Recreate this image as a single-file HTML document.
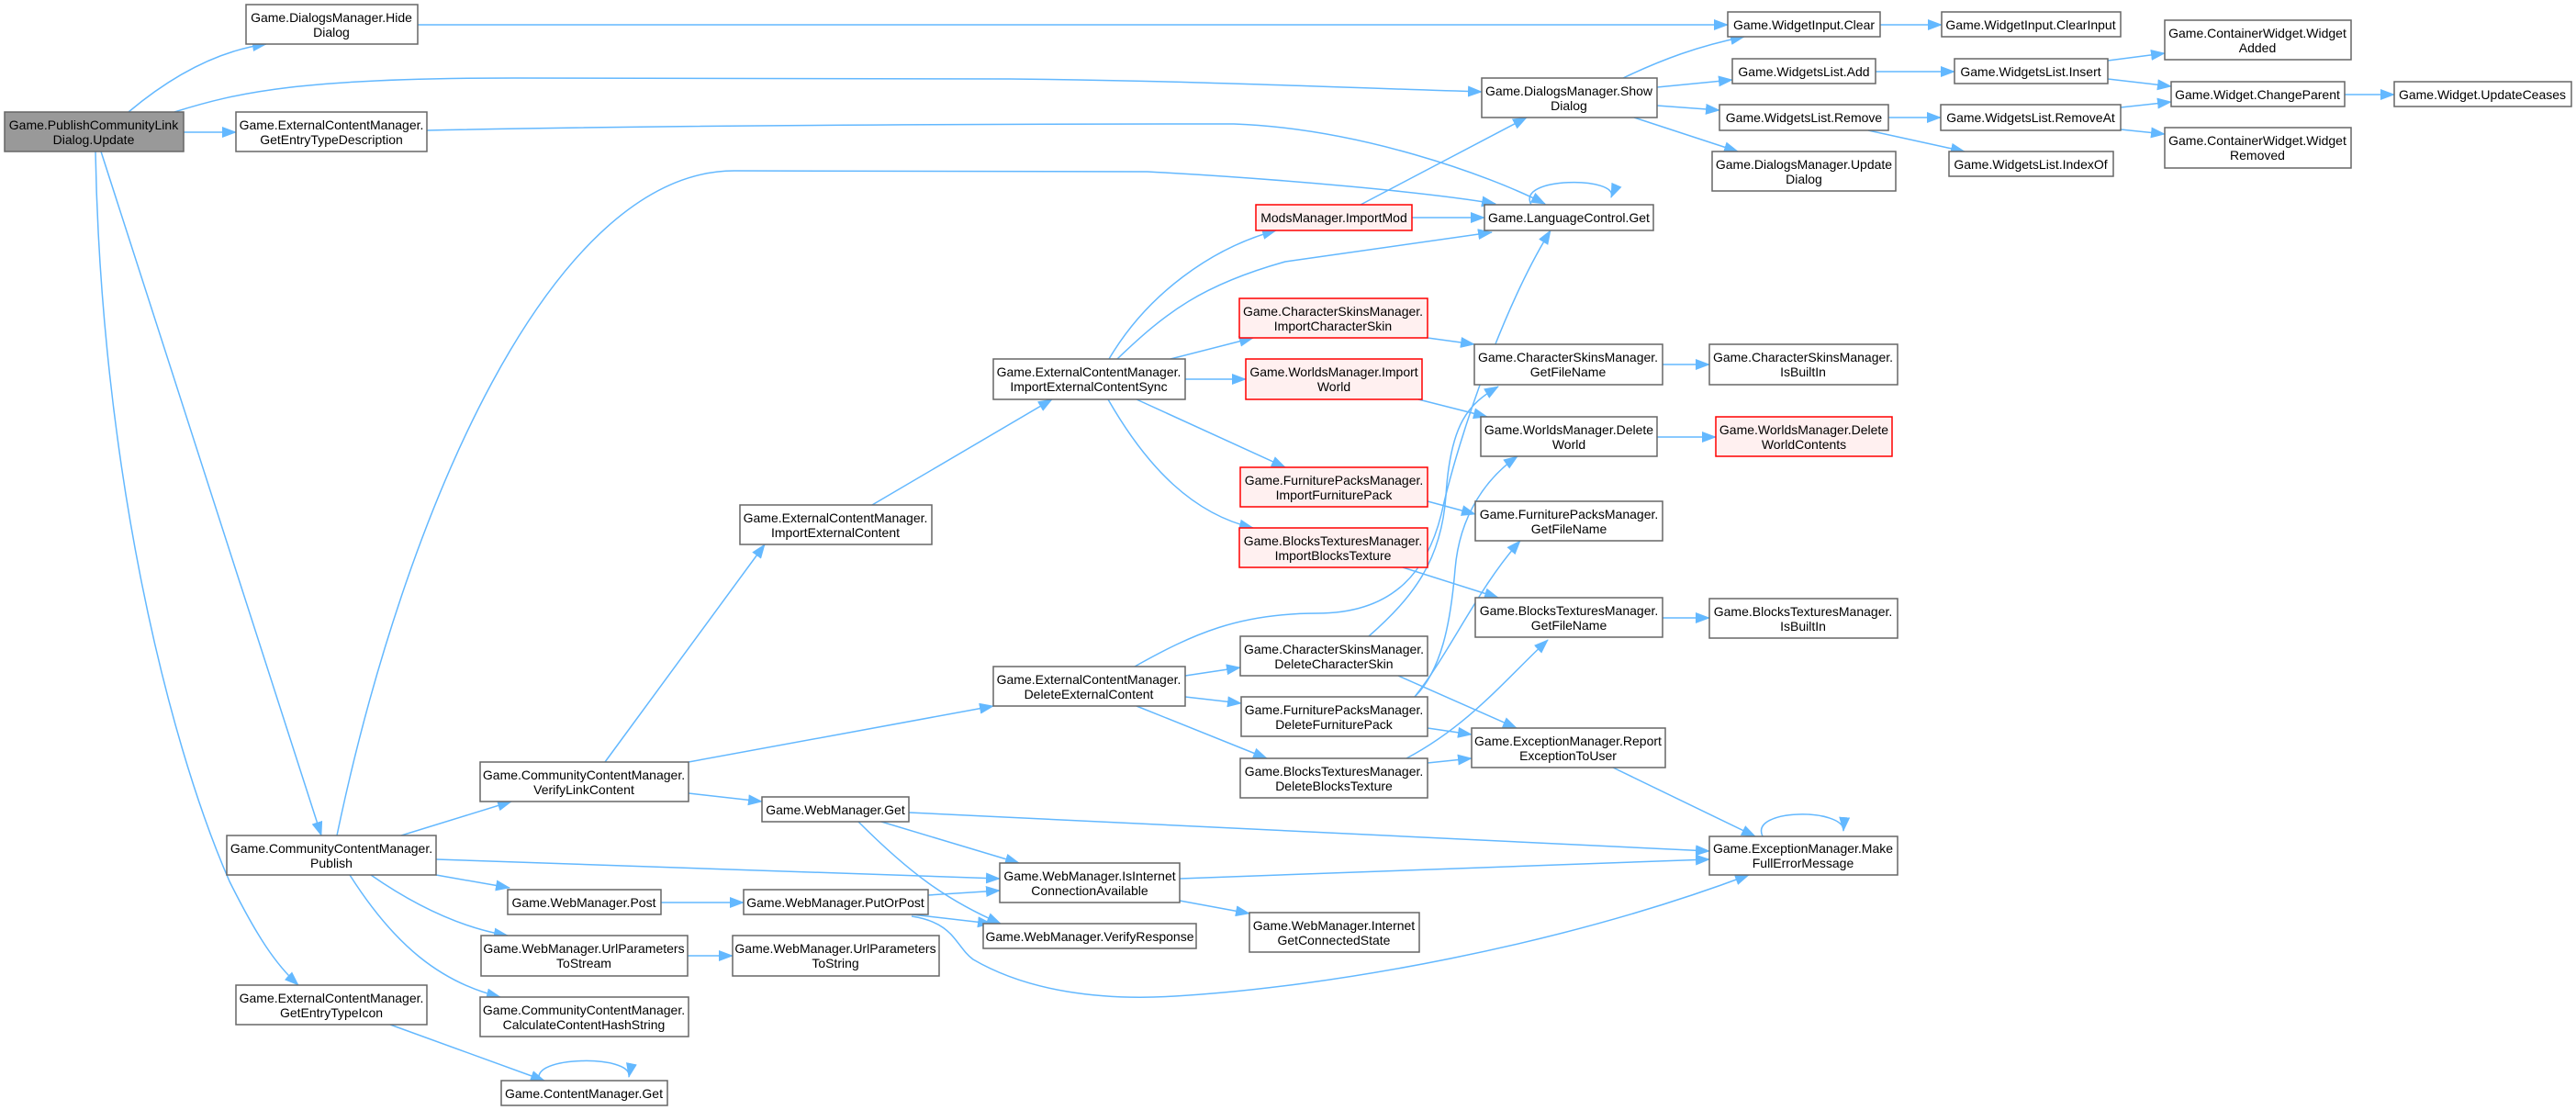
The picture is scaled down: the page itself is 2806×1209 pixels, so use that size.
<!DOCTYPE html>
<html><head><meta charset="utf-8"><style>
html,body{margin:0;padding:0;background:#fff;}
svg{display:block;}
text{font-family:"Liberation Sans",Arial,sans-serif;font-size:14px;fill:#000;}
.n{fill:#fff;stroke:#666;stroke-width:1.5;}
.r{fill:#fff0f0;stroke:#ff0000;stroke-width:1.5;}
.g{fill:#999;stroke:#666;stroke-width:1.5;}
.e{fill:none;stroke:#63b8ff;stroke-width:1.5;marker-end:url(#a);}
</style></head><body>
<svg width="2806" height="1209" viewBox="0 0 2806 1209" xmlns="http://www.w3.org/2000/svg">
<defs><marker id="a" markerWidth="16" markerHeight="12" refX="15" refY="6" orient="auto" markerUnits="userSpaceOnUse"><path d="M0,0 L16,6 L0,12 z" fill="#63b8ff"/></marker></defs>
<g>
<path class="e" d="M140,122 C190,80 240,55 290,48"/>
<path class="e" d="M190,122 C260,100 330,85 560,85 L1100,86 C1300,88 1450,95 1614,100"/>
<path class="e" d="M200,144 L257,144"/>
<path class="e" d="M110,165 L350,910"/>
<path class="e" d="M104,165 C110,500 180,800 250,960 C280,1020 300,1050 325,1073"/>
<path class="e" d="M455,27 L1882,27"/>
<path class="e" d="M465,142 C700,137 1000,135 1344,135 C1480,140 1620,190 1683,222"/>
<path class="e" d="M367,910 C440,560 600,186 800,186 L1250,187 C1400,195 1560,210 1629,222"/>
<path class="e" d="M1768,85 C1810,65 1850,50 1900,40"/>
<path class="e" d="M1805,95 L1887,87"/>
<path class="e" d="M1805,115 L1873,120"/>
<path class="e" d="M1780,128 L1893,165"/>
<path class="e" d="M1482,223 L1663,128"/>
<path class="e" d="M1538,237 L1617,237"/>
<path class="e" d="M1668,223 C1650,192 1765,192 1755,215"/>
<path class="e" d="M1208,391 C1250,320 1320,270 1390,251"/>
<path class="e" d="M1217,391 C1270,340 1310,310 1400,285 L1625,253"/>
<path class="e" d="M1275,391 L1365,368"/>
<path class="e" d="M1291,413 L1357,413"/>
<path class="e" d="M1238,435 L1400,509"/>
<path class="e" d="M1207,435 C1250,510 1300,560 1365,575"/>
<path class="e" d="M950,550 L1146,435"/>
<path class="e" d="M1555,368 L1606,375"/>
<path class="e" d="M1545,435 L1620,454"/>
<path class="e" d="M1555,546 L1607,560"/>
<path class="e" d="M1528,618 L1632,651"/>
<path class="e" d="M1811,397 L1862,397"/>
<path class="e" d="M1805,476 L1869,476"/>
<path class="e" d="M1811,673 L1862,673"/>
<path class="e" d="M1757,836 L1912,911"/>
<path class="e" d="M1920,911 C1905,880 2010,880 2008,905"/>
<path class="e" d="M1236,726 C1300,690 1350,668 1435,668 C1520,668 1555,620 1570,560 C1590,470 1640,330 1689,251"/>
<path class="e" d="M1491,693 C1540,650 1570,610 1575,540 C1580,460 1600,440 1632,421"/>
<path class="e" d="M1541,759 C1570,730 1580,680 1585,620 C1590,560 1620,520 1653,497"/>
<path class="e" d="M1541,759 C1580,710 1610,640 1656,589"/>
<path class="e" d="M1532,826 C1600,790 1640,740 1686,697"/>
<path class="e" d="M1291,736 L1351,727"/>
<path class="e" d="M1291,759 L1352,766"/>
<path class="e" d="M1238,769 L1380,826"/>
<path class="e" d="M1523,736 L1652,793"/>
<path class="e" d="M1555,793 L1603,800"/>
<path class="e" d="M1555,831 L1603,826"/>
<path class="e" d="M659,830 L833,593"/>
<path class="e" d="M750,830 L1082,769"/>
<path class="e" d="M750,864 L830,873"/>
<path class="e" d="M437,910 L557,873"/>
<path class="e" d="M475,936 L1089,957"/>
<path class="e" d="M475,953 L555,967"/>
<path class="e" d="M404,953 C450,985 500,1010 553,1019"/>
<path class="e" d="M381,953 C430,1030 480,1070 545,1086"/>
<path class="e" d="M720,983 L810,983"/>
<path class="e" d="M749,1041 L798,1041"/>
<path class="e" d="M425,1116 L593,1177"/>
<path class="e" d="M588,1177 C575,1150 690,1148 685,1173"/>
<path class="e" d="M990,885 L1862,927"/>
<path class="e" d="M960,895 L1110,940"/>
<path class="e" d="M935,895 C990,950 1030,980 1090,1006"/>
<path class="e" d="M1011,975 L1089,970"/>
<path class="e" d="M993,996 L1080,1006"/>
<path class="e" d="M993,998 C1040,1005 1040,1030 1060,1045 C1120,1080 1200,1090 1280,1085 C1450,1075 1700,1030 1905,953"/>
<path class="e" d="M1285,957 L1862,936"/>
<path class="e" d="M1285,981 L1361,995"/>
<path class="e" d="M2048,27 L2115,27"/>
<path class="e" d="M2043,78 L2129,78"/>
<path class="e" d="M2296,66 L2358,58"/>
<path class="e" d="M2296,86 L2365,94"/>
<path class="e" d="M2554,103 L2608,103"/>
<path class="e" d="M2057,128 L2114,128"/>
<path class="e" d="M2035,142 L2140,165"/>
<path class="e" d="M2310,117 L2365,111"/>
<path class="e" d="M2310,141 L2358,146"/>
</g>
<g text-anchor="middle" dominant-baseline="central">
<rect class="g" x="5" y="122" width="195" height="43"/><text x="102" y="136">Game.PublishCommunityLink</text><text x="102" y="152">Dialog.Update</text>
<rect class="n" x="268" y="5" width="187" height="43"/><text x="361" y="19">Game.DialogsManager.Hide</text><text x="361" y="35">Dialog</text>
<rect class="n" x="257" y="122" width="208" height="43"/><text x="361" y="136">Game.ExternalContentManager.</text><text x="361" y="152">GetEntryTypeDescription</text>
<rect class="n" x="247" y="910" width="228" height="43"/><text x="361" y="924">Game.CommunityContentManager.</text><text x="361" y="940">Publish</text>
<rect class="n" x="257" y="1073" width="208" height="43"/><text x="361" y="1087">Game.ExternalContentManager.</text><text x="361" y="1103">GetEntryTypeIcon</text>
<rect class="n" x="523" y="830" width="227" height="43"/><text x="636" y="844">Game.CommunityContentManager.</text><text x="636" y="860">VerifyLinkContent</text>
<rect class="n" x="524" y="1019" width="225" height="44"/><text x="636" y="1033">Game.WebManager.UrlParameters</text><text x="636" y="1049">ToStream</text>
<rect class="n" x="523" y="1086" width="227" height="43"/><text x="636" y="1100">Game.CommunityContentManager.</text><text x="636" y="1116">CalculateContentHashString</text>
<rect class="n" x="553" y="969" width="167" height="27"/><text x="636" y="983">Game.WebManager.Post</text>
<rect class="n" x="546" y="1177" width="181" height="27"/><text x="636" y="1191">Game.ContentManager.Get</text>
<rect class="n" x="806" y="550" width="209" height="43"/><text x="910" y="564">Game.ExternalContentManager.</text><text x="910" y="580">ImportExternalContent</text>
<rect class="n" x="830" y="868" width="160" height="27"/><text x="910" y="882">Game.WebManager.Get</text>
<rect class="n" x="810" y="969" width="201" height="27"/><text x="910" y="983">Game.WebManager.PutOrPost</text>
<rect class="n" x="798" y="1019" width="225" height="44"/><text x="910" y="1033">Game.WebManager.UrlParameters</text><text x="910" y="1049">ToString</text>
<rect class="n" x="1082" y="391" width="209" height="44"/><text x="1186" y="405">Game.ExternalContentManager.</text><text x="1186" y="421">ImportExternalContentSync</text>
<rect class="n" x="1082" y="726" width="209" height="43"/><text x="1186" y="740">Game.ExternalContentManager.</text><text x="1186" y="756">DeleteExternalContent</text>
<rect class="n" x="1089" y="940" width="196" height="43"/><text x="1187" y="954">Game.WebManager.IsInternet</text><text x="1187" y="970">ConnectionAvailable</text>
<rect class="n" x="1071" y="1006" width="232" height="27"/><text x="1187" y="1020">Game.WebManager.VerifyResponse</text>
<rect class="r" x="1368" y="223" width="170" height="28"/><text x="1453" y="237">ModsManager.ImportMod</text>
<rect class="r" x="1350" y="325" width="205" height="43"/><text x="1452" y="339">Game.CharacterSkinsManager.</text><text x="1452" y="355">ImportCharacterSkin</text>
<rect class="r" x="1357" y="391" width="192" height="44"/><text x="1453" y="405">Game.WorldsManager.Import</text><text x="1453" y="421">World</text>
<rect class="r" x="1351" y="509" width="204" height="43"/><text x="1453" y="523">Game.FurniturePacksManager.</text><text x="1453" y="539">ImportFurniturePack</text>
<rect class="r" x="1350" y="575" width="205" height="43"/><text x="1452" y="589">Game.BlocksTexturesManager.</text><text x="1452" y="605">ImportBlocksTexture</text>
<rect class="n" x="1351" y="693" width="204" height="43"/><text x="1453" y="707">Game.CharacterSkinsManager.</text><text x="1453" y="723">DeleteCharacterSkin</text>
<rect class="n" x="1352" y="759" width="203" height="43"/><text x="1453" y="773">Game.FurniturePacksManager.</text><text x="1453" y="789">DeleteFurniturePack</text>
<rect class="n" x="1351" y="826" width="204" height="43"/><text x="1453" y="840">Game.BlocksTexturesManager.</text><text x="1453" y="856">DeleteBlocksTexture</text>
<rect class="n" x="1361" y="994" width="185" height="43"/><text x="1453" y="1008">Game.WebManager.Internet</text><text x="1453" y="1024">GetConnectedState</text>
<rect class="n" x="1614" y="85" width="191" height="43"/><text x="1709" y="99">Game.DialogsManager.Show</text><text x="1709" y="115">Dialog</text>
<rect class="n" x="1617" y="223" width="184" height="28"/><text x="1709" y="237">Game.LanguageControl.Get</text>
<rect class="n" x="1606" y="375" width="205" height="44"/><text x="1708" y="389">Game.CharacterSkinsManager.</text><text x="1708" y="405">GetFileName</text>
<rect class="n" x="1613" y="454" width="192" height="43"/><text x="1709" y="468">Game.WorldsManager.Delete</text><text x="1709" y="484">World</text>
<rect class="n" x="1607" y="546" width="204" height="43"/><text x="1709" y="560">Game.FurniturePacksManager.</text><text x="1709" y="576">GetFileName</text>
<rect class="n" x="1607" y="651" width="204" height="43"/><text x="1709" y="665">Game.BlocksTexturesManager.</text><text x="1709" y="681">GetFileName</text>
<rect class="n" x="1603" y="793" width="211" height="43"/><text x="1708" y="807">Game.ExceptionManager.Report</text><text x="1708" y="823">ExceptionToUser</text>
<rect class="n" x="1882" y="13" width="166" height="27"/><text x="1965" y="27">Game.WidgetInput.Clear</text>
<rect class="n" x="1887" y="64" width="156" height="27"/><text x="1965" y="78">Game.WidgetsList.Add</text>
<rect class="n" x="1873" y="114" width="184" height="28"/><text x="1965" y="128">Game.WidgetsList.Remove</text>
<rect class="n" x="1865" y="165" width="200" height="43"/><text x="1965" y="179">Game.DialogsManager.Update</text><text x="1965" y="195">Dialog</text>
<rect class="n" x="1862" y="375" width="205" height="44"/><text x="1964" y="389">Game.CharacterSkinsManager.</text><text x="1964" y="405">IsBuiltIn</text>
<rect class="r" x="1869" y="454" width="192" height="43"/><text x="1965" y="468">Game.WorldsManager.Delete</text><text x="1965" y="484">WorldContents</text>
<rect class="n" x="1862" y="652" width="205" height="43"/><text x="1964" y="666">Game.BlocksTexturesManager.</text><text x="1964" y="682">IsBuiltIn</text>
<rect class="n" x="1862" y="911" width="205" height="42"/><text x="1964" y="924">Game.ExceptionManager.Make</text><text x="1964" y="940">FullErrorMessage</text>
<rect class="n" x="2115" y="13" width="195" height="27"/><text x="2212" y="27">Game.WidgetInput.ClearInput</text>
<rect class="n" x="2129" y="64" width="167" height="27"/><text x="2212" y="78">Game.WidgetsList.Insert</text>
<rect class="n" x="2114" y="114" width="196" height="28"/><text x="2212" y="128">Game.WidgetsList.RemoveAt</text>
<rect class="n" x="2123" y="165" width="179" height="27"/><text x="2212" y="179">Game.WidgetsList.IndexOf</text>
<rect class="n" x="2358" y="22" width="203" height="43"/><text x="2459" y="36">Game.ContainerWidget.Widget</text><text x="2459" y="52">Added</text>
<rect class="n" x="2358" y="139" width="203" height="44"/><text x="2459" y="153">Game.ContainerWidget.Widget</text><text x="2459" y="169">Removed</text>
<rect class="n" x="2365" y="89" width="189" height="27"/><text x="2459" y="103">Game.Widget.ChangeParent</text>
<rect class="n" x="2608" y="89" width="193" height="27"/><text x="2704" y="103">Game.Widget.UpdateCeases</text>
</g>
</svg>
</body></html>
